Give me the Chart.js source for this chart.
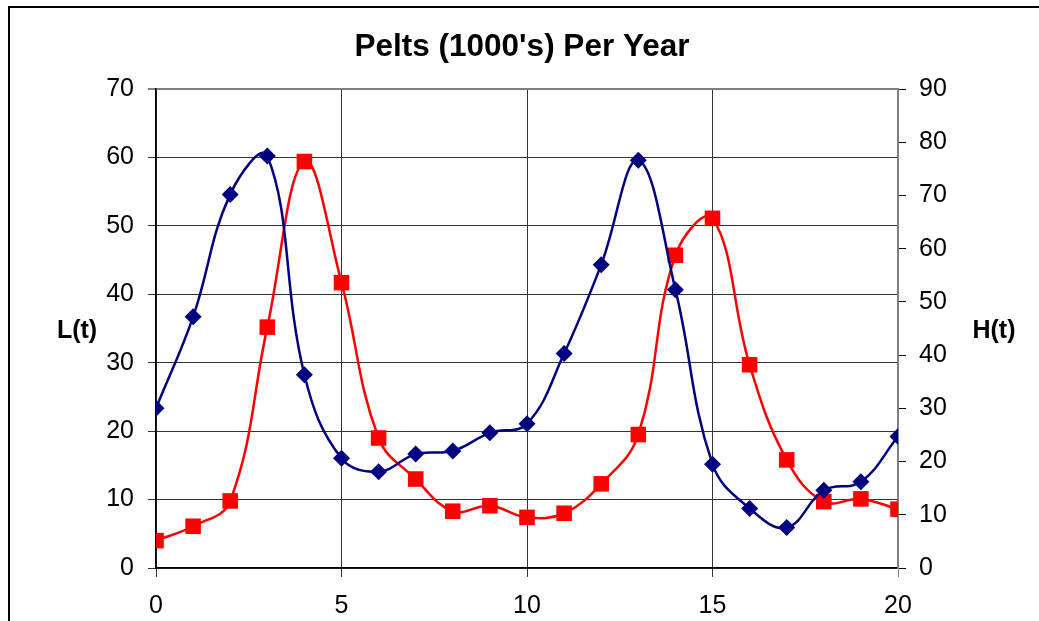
<!DOCTYPE html>
<html>
<head>
<meta charset="utf-8">
<script src="https://cdn.jsdelivr.net/npm/chart.js@4/dist/chart.umd.min.js"></script>
<style>
  html, body { margin: 0; padding: 0; background: #fff; overflow: hidden; }
  #frame { position: absolute; left: 8px; top: 6px; width: 1100px; height: 700px;
           border-left: 2px solid #000; border-top: 2px solid #000; pointer-events: none; }
  #c { position: absolute; left: 0; top: 0; }
</style>
</head>
<body>
<div id="frame"></div>
<canvas id="c" width="1039" height="621"></canvas>
<script>
// ---- data ----
const years = [0, 1, 2, 3, 4, 5, 6, 7, 8, 9, 10, 11, 12, 13, 14, 15, 16, 17, 18, 19, 20];
const lynx  = [4, 6.1, 9.8, 35.2, 59.4, 41.7, 19, 13, 8.3, 9.1, 7.4, 8, 12.3, 19.5, 45.7, 51.1, 29.7, 15.8, 9.7, 10.1, 8.6];
const hare  = [30, 47.2, 70.2, 77.4, 36.3, 20.6, 18.1, 21.4, 22, 25.4, 27.1, 40.3, 57, 76.6, 52.3, 19.5, 11.2, 7.6, 14.6, 16.2, 24.7];
const xTicks = [0, 5, 10, 15, 20];
const leftTicks = [0, 10, 20, 30, 40, 50, 60, 70];
const rightTicks = [0, 10, 20, 30, 40, 50, 60, 70, 80, 90];
const titleText = "Pelts (1000's) Per Year";
const leftTitle = "L(t)";
const rightTitle = "H(t)";

const FONT = "'Liberation Sans', Arial, Helvetica, sans-serif";

const textPlugin = {
  id: 'texts',
  afterDraw(chart) {
    const ctx = chart.ctx;
    ctx.save();
    ctx.fillStyle = '#000';
    ctx.textAlign = 'center';
    ctx.textBaseline = 'middle';
    ctx.font = "bold 31.5px " + FONT;
    ctx.fillText(titleText, 522, 47);
    ctx.font = "bold 25px " + FONT;
    ctx.fillText(leftTitle, 77, 331);
    ctx.fillText(rightTitle, 994, 331);
    ctx.restore();
  }
};

new Chart(document.getElementById('c'), {
  type: 'line',
  data: {
    datasets: [
      {
        label: 'H(t)',
        data: years.map((x, i) => ({ x: x, y: hare[i] })),
        yAxisID: 'yR',
        borderColor: '#000080',
        backgroundColor: '#000080',
        borderWidth: 2.5,
        pointStyle: 'rectRot',
        pointRadius: 8.5,
        pointBorderWidth: 0,
        tension: 0.4,
        fill: false,
        order: 0
      },
      {
        label: 'L(t)',
        data: years.map((x, i) => ({ x: x, y: lynx[i] })),
        yAxisID: 'yL',
        borderColor: '#FF0000',
        backgroundColor: '#FF0000',
        borderWidth: 2.5,
        pointStyle: 'rect',
        pointRadius: 11,
        pointBorderWidth: 0,
        tension: 0.4,
        fill: false,
        order: 1
      }
    ]
  },
  options: {
    responsive: false,
    animation: false,
    events: [],
    layout: { padding: { top: 89, left: 0, right: 0, bottom: 0 } },
    plugins: { legend: { display: false }, tooltip: { enabled: false }, title: { display: false } },
    scales: {
      x: {
        type: 'linear',
        min: 0, max: 20,
        afterFit(s) { s.height = 53; },
        afterBuildTicks(s) { s.ticks = xTicks.map(v => ({ value: v })); },
        ticks: { color: '#000', font: { family: FONT, size: 25 }, padding: 14, maxRotation: 0 },
        grid: {
          color: (c) => (c.tick && c.tick.value === 20) ? '#808080' : '#333',
          lineWidth: 1,
          tickLength: 9,
          drawTicks: true
        },
        border: { display: true, color: '#000', width: 1.5 }
      },
      yL: {
        type: 'linear',
        position: 'left',
        min: 0, max: 70,
        afterFit(s) { s.width = 156; },
        afterBuildTicks(s) { s.ticks = leftTicks.map(v => ({ value: v })); },
        ticks: { color: '#000', font: { family: FONT, size: 25 }, padding: 14 },
        grid: {
          color: (c) => (c.tick && c.tick.value === 70) ? '#808080' : '#333',
          lineWidth: (c) => (c.tick && c.tick.value === 70) ? 2 : 1,
          tickLength: 8
        },
        border: { display: true, color: '#000', width: 1.5 }
      },
      yR: {
        type: 'linear',
        position: 'right',
        min: 0, max: 90,
        afterFit(s) { s.width = 141; },
        afterBuildTicks(s) { s.ticks = rightTicks.map(v => ({ value: v })); },
        ticks: { color: '#000', font: { family: FONT, size: 25 }, padding: 13 },
        grid: { drawOnChartArea: false, color: '#000', tickLength: 8, lineWidth: 1 },
        border: { display: true, color: '#808080', width: 2 }
      }
    }
  },
  plugins: [textPlugin]
});
</script>
</body>
</html>
